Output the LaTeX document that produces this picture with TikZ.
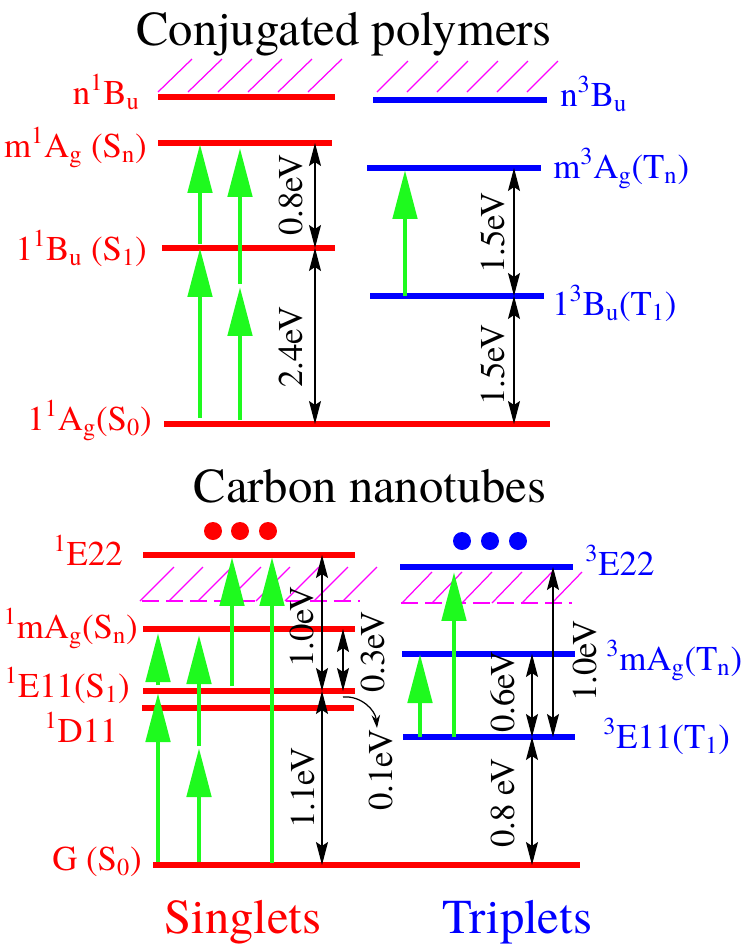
\documentclass[tikz,border=0pt]{standalone}
\usepackage{fontspec}
\setmainfont{texgyretermes}[Extension=.otf, UprightFont=*-regular, BoldFont=*-bold, ItalicFont=*-italic]
\usepackage{tikz}
\usetikzlibrary{arrows.meta}
\definecolor{pumpgreen}{RGB}{30,250,30}
\definecolor{hatchpink}{RGB}{255,0,255}

\newcommand{\sps}[1]{\textsuperscript{#1}}
\newcommand{\sbs}[1]{\textsubscript{#1}}

\tikzset{
  sing/.style={red, line width=3.2pt},
  trip/.style={blue, line width=3.2pt},
  pump/.style={pumpgreen, line width=2.8pt, -{Triangle[length=0.98cm, width=0.48cm]}},
  gap/.style={black, line width=0.7pt, {Stealth[length=0.46cm, width=0.24cm, inset=0.08cm]}-{Stealth[length=0.46cm, width=0.24cm, inset=0.08cm]}},
  hatchline/.style={hatchpink, line width=0.7pt},
  lab/.style={font=\fontsize{19.8}{22}\selectfont, inner sep=0pt},
  ev/.style={font=\fontsize{19.8}{22}\selectfont, rotate=90, inner sep=0pt},
  head/.style={font=\fontsize{27.7}{30}\selectfont, inner sep=0pt},
}

\begin{document}
\begin{tikzpicture}[x=0.02cm, y=-0.02cm]
    \useasboundingbox (0,0) rectangle (747,948);

    % Titles
    \node[head, anchor=base] (cp) at (344,45) {Conjugated polymers};
    \node[head, anchor=base] (cn) at (370,502) {Carbon nanotubes};
    \node[head, red, anchor=base] (sg) at (243,933) {Singlets};
    \node[head, blue, anchor=base] (tr) at (517,933) {Triplets};

    % Continua (hatched)
    \foreach \x in {158,188,...,308} \draw[hatchline] (\x,92) -- ++(34,-33);
    \foreach \x in {377,407,...,527} \draw[hatchline] (\x,92) -- ++(31,-31);
    \draw[hatchline, dash pattern=on 0.34cm off 0.14cm] (142,601) -- (360,601);
    \foreach \x in {140,169,...,343} \draw[hatchline] (\x,601) -- ++(34,-34);
    \draw[hatchline, dash pattern=on 0.34cm off 0.14cm] (401,603) -- (572,603);
    \foreach \x in {402,432,...,552} \draw[hatchline] (\x,603) -- ++(30,-31);

    % Polymer levels
    \draw[sing] (158,97) -- (335,97);
    \draw[sing] (158,143) -- (332,143);
    \draw[sing] (162,248) -- (335,248);
    \draw[sing] (164,424) -- (550,424);
    \draw[trip] (373,100) -- (547,100);
    \draw[trip] (367,168) -- (541,168);
    \draw[trip] (370,296) -- (544,296);

    % Nanotube levels
    \draw[sing] (143,555) -- (355,555);
    \draw[sing] (143,629) -- (355,629);
    \draw[sing] (143,691) -- (355,691);
    \draw[sing] (142,708) -- (354,708);
    \draw[sing] (153,865) -- (580,865);
    \draw[trip] (400,567) -- (573,567);
    \draw[trip] (402,654) -- (575,654);
    \draw[trip] (403,737) -- (575,737);

    \foreach \x in {213,240,268} \fill[red] (\x,531) circle[radius=9];
    \foreach \x in {462,490,518} \fill[blue] (\x,541) circle[radius=9];

    % Absorption
    \draw[pump] (200,418) -- (200,248);
    \draw[pump] (200,244) -- (200,144);
    \draw[pump] (240,420) -- (240,287);
    \draw[pump] (240,284) -- (240,148);
    \draw[pump] (405,296) -- (405,170);
    \draw[pump] (158,862) -- (158,693);
    \draw[pump] (158,685) -- (158,633);
    \draw[pump] (199,862) -- (199,748);
    \draw[pump] (199,746) -- (199,635);
    \draw[pump] (232,686) -- (232,557);
    \draw[pump] (272,863) -- (272,557);
    \draw[pump] (420,737) -- (420,654);
    \draw[pump] (454,737) -- (454,572);

    % Energy gaps
    \draw[gap] (315,143) -- (315,248);
    \draw[gap] (315,248) -- (315,424);
    \draw[gap] (514,168) -- (514,296);
    \draw[gap] (514,296) -- (514,424);
    \draw[gap] (322,555) -- (322,691);
    \draw[gap] (343,629) -- (343,691);
    \draw[gap] (322,691) -- (322,865);
    \draw[gap] (532,654) -- (532,737);
    \draw[gap] (553,567) -- (553,737);
    \draw[gap] (532,737) -- (532,865);
    \draw[line width=0.7pt, -{Stealth[length=0.26cm, width=0.17cm]}] (343,697) to[out=5, in=95] (377,728);

    \node[ev] (e08) at (291,195) {0.8eV};
    \node[ev] (e24) at (291,347) {2.4eV};
    \node[ev] (e15a) at (493,233) {1.5eV};
    \node[ev] (e15b) at (493,365) {1.5eV};
    \node[ev] (e10a) at (302,627) {1.0eV};
    \node[ev] (e03) at (373,652) {0.3eV};
    \node[ev] (e11) at (303,788) {1.1eV};
    \node[ev] (e01) at (381,770) {0.1eV};
    \node[ev] (e06) at (503,692) {0.6eV};
    \node[ev] (e10b) at (585,661) {1.0eV};
    \node[ev] (e08b) at (503,803) {0.8 eV};

    % Level names
    \node[lab, red, anchor=base east] (nBs) at (140,104) {n\sps{1}B\sbs{u}};
    \node[lab, red, anchor=base east] (mAs) at (147,157) {m\sps{1}A\sbs{g} (S\sbs{n})};
    \node[lab, red, anchor=base east] (Bs) at (147,260) {1\sps{1}B\sbs{u} (S\sbs{1})};
    \node[lab, red, anchor=base east] (As) at (152,430) {1\sps{1}A\sbs{g}(S\sbs{0})};
    \node[lab, blue, anchor=base west] (nBt) at (560,106) {n\sps{3}B\sbs{u}};
    \node[lab, blue, anchor=base west] (mAt) at (553,178) {m\sps{3}A\sbs{g}(T\sbs{n})};
    \node[lab, blue, anchor=base west] (Bt) at (552,315) {1\sps{3}B\sbs{u}(T\sbs{1})};

    \node[lab, red, anchor=base east] (E22s) at (123,565) {\sps{1}E22};
    \node[lab, red, anchor=base east] (mAgs) at (138,638) {\sps{1}mA\sbs{g}(S\sbs{n})};
    \node[lab, red, anchor=base east] (E11s) at (130,697) {\sps{1}E11(S\sbs{1})};
    \node[lab, red, anchor=base east] (D11) at (118,742) {\sps{1}D11};
    \node[lab, red, anchor=base east] (G) at (142,870) {G (S\sbs{0})};
    \node[lab, blue, anchor=base west] (E22t) at (585,575) {\sps{3}E22};
    \node[lab, blue, anchor=base west] (mAgt) at (606,670) {\sps{3}mA\sbs{g}(T\sbs{n})};
    \node[lab, blue, anchor=base west] (E11t) at (603,748) {\sps{3}E11(T\sbs{1})};
\end{tikzpicture}
\end{document}
